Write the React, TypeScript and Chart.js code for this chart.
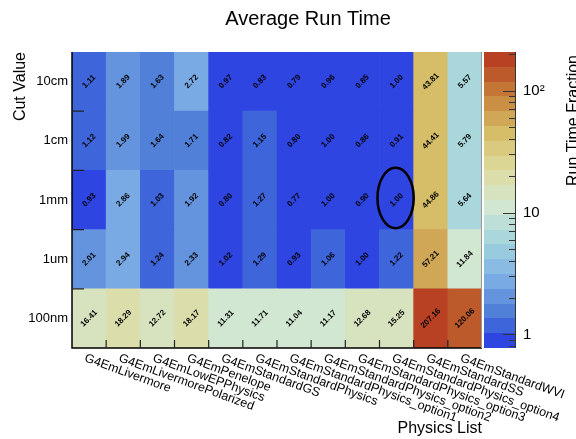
import React, { useEffect, useRef } from "react";
import { Chart, registerables } from "chart.js";

Chart.register(...registerables);

// ---------------- data ----------------
const physicsLists = [
  "G4EmLivermore",
  "G4EmLivermorePolarized",
  "G4EmLowEPPhysics",
  "G4EmPenelope",
  "G4EmStandardGS",
  "G4EmStandardPhysics",
  "G4EmStandardPhysics_option1",
  "G4EmStandardPhysics_option2",
  "G4EmStandardPhysics_option3",
  "G4EmStandardPhysics_option4",
  "G4EmStandardSS",
  "G4EmStandardWVI",
];

// rows listed bottom -> top
const cutValues = ["100nm", "1um", "1mm", "1cm", "10cm"];

const row100nm = [16.41, 18.29, 12.72, 18.17, 11.31, 11.71, 11.04, 11.17, 12.68, 15.25, 207.16, 120.06];
const row1um = [2.01, 2.94, 1.24, 2.33, 1.02, 1.29, 0.93, 1.06, 1.0, 1.22, 57.21, 11.84];
const row1mm = [0.93, 2.86, 1.03, 1.92, 0.8, 1.27, 0.77, 1.0, 0.9, 1.0, 44.86, 5.64];
const row1cm = [1.12, 1.99, 1.64, 1.71, 0.82, 1.15, 0.8, 1.0, 0.86, 0.91, 44.41, 5.79];
const row10cm = [1.11, 1.89, 1.63, 2.72, 0.97, 0.83, 0.79, 0.96, 0.85, 1.0, 43.81, 5.57];

const rows = [row100nm, row1um, row1mm, row1cm, row10cm];

const colorbarTicks = [1, 10, 100];
const colorbarTickLabels = ["1", "10", "10\u00B2"];
const colorbarMinorTicks = [0.8, 0.9, 2, 3, 4, 5, 6, 7, 8, 9, 20, 30, 40, 50, 60, 70, 80, 90, 200];

const Z_MIN = 0.775;
const Z_MAX = 207.16;
const N_CONTOURS = 20;

const highlightRow = "1mm";
const highlightCol = "G4EmStandardPhysics_option4";

const chartTitle = "Average Run Time";
const xTitle = "Physics List";
const yTitle = "Cut Value";
const zTitle = "Run Time Fraction";

// ---------------- palette (ROOT kLightTemperature) ----------------
const paletteStops = [
  [31, 40, 234],
  [71, 117, 214],
  [123, 171, 228],
  [160, 211, 222],
  [210, 231, 210],
  [222, 220, 160],
  [214, 190, 105],
  [199, 132, 60],
  [183, 65, 34],
];

function paletteColor(k: number): string {
  const t = (k / 254) * (paletteStops.length - 1);
  const i = Math.min(paletteStops.length - 2, Math.floor(t));
  const f = t - i;
  const a = paletteStops[i];
  const b = paletteStops[i + 1];
  const c = a.map((v, j) => Math.round(v + (b[j] - v) * f));
  return `rgb(${c[0]},${c[1]},${c[2]})`;
}

const LOG_MIN = Math.log10(Z_MIN);
const LOG_STEP = (Math.log10(Z_MAX) - LOG_MIN) / N_CONTOURS;

function bandColor(i: number): string {
  return paletteColor(Math.floor(((i + 0.99) * 255) / N_CONTOURS));
}

function bandOf(v: number): number {
  const b = Math.floor((Math.log10(v) - LOG_MIN) / LOG_STEP);
  return Math.max(0, Math.min(N_CONTOURS - 1, b));
}

const FONT = '"Liberation Sans", Arial, Helvetica, sans-serif';

const extrasPlugin = {
  id: "heatExtras",
  afterDraw(chart: any) {
    const { ctx, chartArea: ca, scales } = chart;
    const xs = scales.x;
    const ys = scales.y;
    const zs = scales.z;
    ctx.save();

    // --- colour bar ---
    const cbLeft = ca.right + 2;
    const cbRight = ca.right + 34;
    for (let k = 0; k < N_CONTOURS; k++) {
      const lo = Math.pow(10, LOG_MIN + k * LOG_STEP);
      const hi = Math.pow(10, LOG_MIN + (k + 1) * LOG_STEP);
      const yTop = Math.round(zs.getPixelForValue(hi));
      const yBot = Math.round(zs.getPixelForValue(lo));
      ctx.fillStyle = bandColor(k);
      ctx.fillRect(cbLeft, yTop, cbRight - cbLeft, yBot - yTop);
    }
    ctx.strokeStyle = "#333";
    ctx.lineWidth = 1;
    ctx.beginPath();
    ctx.moveTo(cbRight - 0.5, Math.round(zs.getPixelForValue(Z_MAX)));
    ctx.lineTo(cbRight - 0.5, Math.round(zs.getPixelForValue(Z_MIN)));
    for (const v of colorbarTicks) {
      const y = Math.round(zs.getPixelForValue(v)) + 0.5;
      ctx.moveTo(cbRight, y);
      ctx.lineTo(cbRight - 13, y);
    }
    for (const v of colorbarMinorTicks) {
      const y = Math.round(zs.getPixelForValue(v)) + 0.5;
      ctx.moveTo(cbRight, y);
      ctx.lineTo(cbRight - 7, y);
    }
    ctx.stroke();

    // --- frame ---
    ctx.strokeStyle = "#000";
    ctx.lineWidth = 1.5;
    ctx.beginPath();
    ctx.moveTo(ca.left, ca.top);
    ctx.lineTo(ca.left, ca.bottom);
    ctx.lineTo(ca.right, ca.bottom);
    ctx.stroke();
    ctx.strokeStyle = "#999";
    ctx.lineWidth = 1;
    ctx.beginPath();
    ctx.moveTo(ca.right - 0.5, ca.top);
    ctx.lineTo(ca.right - 0.5, ca.bottom);
    ctx.stroke();

    // axis tick marks
    ctx.strokeStyle = "#222";
    ctx.lineWidth = 1.2;
    ctx.beginPath();
    for (let i = 1; i < cutValues.length; i++) {
      const y = ys.getPixelForValue(i);
      ctx.moveTo(ca.left, y);
      ctx.lineTo(ca.left + 12, y);
    }
    const colW = (xs.getPixelForValue(1) - xs.getPixelForValue(0));
    for (let i = 1; i < physicsLists.length; i++) {
      const x = xs.getPixelForValue(i) - colW / 2;
      ctx.moveTo(x, ca.bottom);
      ctx.lineTo(x, ca.bottom - 8);
    }
    ctx.stroke();

    // --- cell labels ---
    ctx.fillStyle = "#000";
    ctx.font = `bold 8px ${FONT}`;
    ctx.textAlign = "center";
    ctx.textBaseline = "middle";
    rows.forEach((vals, r) => {
      vals.forEach((v, c) => {
        const x = xs.getPixelForValue(c);
        const y = ys.getPixelForValue(r + 0.5);
        ctx.save();
        ctx.translate(x, y);
        ctx.rotate(-Math.PI / 4);
        ctx.fillText(v.toFixed(2), 0, 0);
        ctx.restore();
      });
    });

    // --- highlight ellipse ---
    const hc = physicsLists.indexOf(highlightCol);
    const hr = cutValues.indexOf(highlightRow);
    const rowH = Math.abs(ys.getPixelForValue(0) - ys.getPixelForValue(1));
    ctx.strokeStyle = "#000";
    ctx.lineWidth = 2.5;
    ctx.beginPath();
    ctx.ellipse(xs.getPixelForValue(hc) - 1, ys.getPixelForValue(hr + 0.5) - 2, colW * 0.53, rowH * 0.51, 0, 0, Math.PI * 2);
    ctx.stroke();

    // --- x labels (rotated) ---
    ctx.fillStyle = "#000";
    ctx.font = `12.5px ${FONT}`;
    ctx.textAlign = "left";
    ctx.textBaseline = "top";
    physicsLists.forEach((lab, i) => {
      ctx.save();
      ctx.translate(xs.getPixelForValue(i) - 2, ca.bottom + 4);
      ctx.rotate((20 * Math.PI) / 180);
      ctx.fillText(lab, 0, 0);
      ctx.restore();
    });

    // --- titles ---
    ctx.font = `20px ${FONT}`;
    ctx.textAlign = "center";
    ctx.textBaseline = "middle";
    ctx.fillText(chartTitle, 308, 19);

    ctx.font = `16px ${FONT}`;
    ctx.textAlign = "right";
    ctx.textBaseline = "alphabetic";
    ctx.fillText(xTitle, ca.right, 433);

    ctx.save();
    ctx.translate(25, ca.top);
    ctx.rotate(-Math.PI / 2);
    ctx.textAlign = "right";
    ctx.textBaseline = "alphabetic";
    ctx.fillText(yTitle, 0, 0);
    ctx.restore();

    ctx.save();
    ctx.translate(566, ca.top + 3);
    ctx.rotate(-Math.PI / 2);
    ctx.textAlign = "right";
    ctx.textBaseline = "top";
    ctx.fillText(zTitle, 0, 0);
    ctx.restore();

    ctx.restore();
  },
};

export default function App() {
  const ref = useRef<HTMLCanvasElement>(null);

  useEffect(() => {
    if (!ref.current) return;
    Chart.defaults.font.family = FONT;
    const chart = new Chart(ref.current, {
      type: "bar",
      data: {
        labels: physicsLists,
        datasets: rows.map((vals, r) => ({
          label: cutValues[r],
          data: vals.map(() => 1),
          backgroundColor: vals.map((v) => bandColor(bandOf(v))),
          borderWidth: 0,
          barPercentage: 1,
          categoryPercentage: 1,
          stack: "cells",
        })),
      },
      options: {
        responsive: false,
        animation: false,
        layout: { padding: { top: 52, left: 0, right: 0, bottom: 0 } },
        plugins: {
          legend: { display: false },
          tooltip: { enabled: false },
          title: { display: false },
        },
        scales: {
          x: {
            type: "category",
            stacked: true,
            grid: { display: false, drawTicks: false },
            border: { display: false },
            ticks: { display: false },
            afterFit(s: any) {
              s.height = 91;
            },
          },
          y: {
            type: "linear",
            stacked: true,
            min: 0,
            max: 5,
            grid: { display: false, drawTicks: false },
            border: { display: false },
            ticks: {
              color: "#000",
              font: { size: 13 },
              padding: 4,
              autoSkip: false,
              callback: (_v: any, i: number) => cutValues[i],
            },
            afterBuildTicks(s: any) {
              s.ticks = cutValues.map((_, i) => ({ value: i + 0.5 }));
            },
            afterFit(s: any) {
              s.width = 72;
            },
          },
          z: {
            type: "logarithmic",
            position: "right",
            min: Z_MIN,
            max: Z_MAX,
            grid: { display: false, drawTicks: false },
            border: { display: false },
            ticks: {
              color: "#000",
              font: { size: 15 },
              padding: 41,
              autoSkip: false,
              callback: (_v: any, i: number) => colorbarTickLabels[i],
            },
            afterBuildTicks(s: any) {
              s.ticks = colorbarTicks.map((v) => ({ value: v }));
            },
            afterFit(s: any) {
              s.width = 94;
            },
          },
        },
      } as any,
      plugins: [extrasPlugin],
    });
    return () => chart.destroy();
  }, []);

  return (
    <div style={{ position: "fixed", left: 0, top: 0, width: 576, height: 439, background: "#fff" }}>
      <canvas ref={ref} width={576} height={439} style={{ display: "block" }} />
    </div>
  );
}
